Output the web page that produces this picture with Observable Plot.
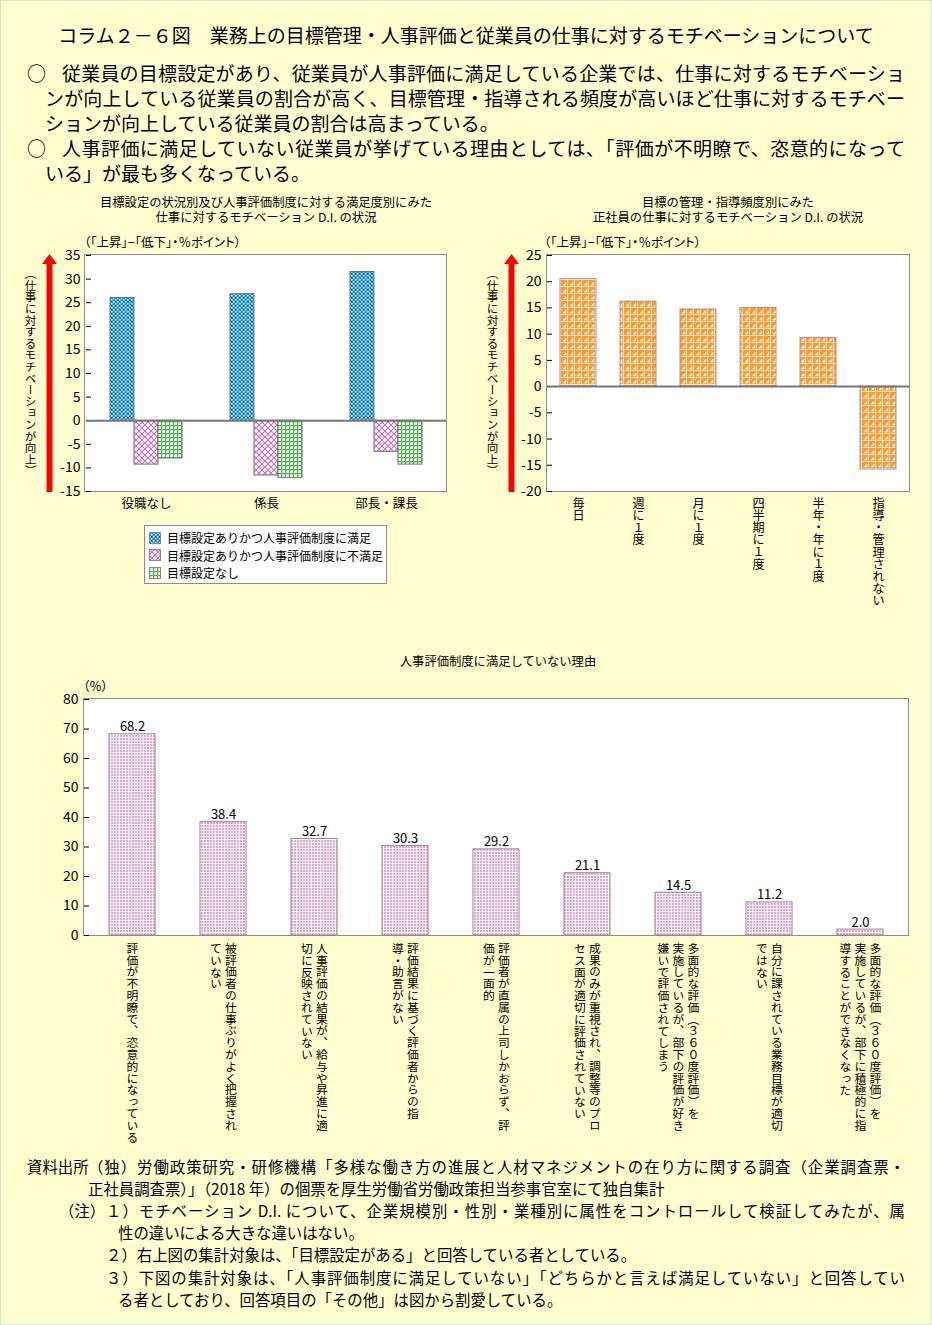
<!DOCTYPE html>
<html><head><meta charset="utf-8">
<script src="https://cdn.jsdelivr.net/npm/d3@7"></script>
<script src="https://cdn.jsdelivr.net/npm/@observablehq/plot@0.6"></script>
<style>
body{margin:0;background:#ffffd0;}
#page{position:relative;width:932px;height:1325px;background:#ffffd0;font-family:"Noto Sans CJK JP",sans-serif;color:#000;overflow:hidden;}
#edge{position:absolute;left:0;top:0;right:0;bottom:0;border:1px solid #c6edc6;pointer-events:none;}
.abs{position:absolute;white-space:nowrap;}
.line{position:absolute;font-size:19px;line-height:25px;height:25px;}
.just{text-align:justify;text-align-last:justify;white-space:normal;overflow:hidden;}
.foot{position:absolute;font-size:15.4px;line-height:22px;height:22px;}
.ctitle{position:absolute;font-size:12.3px;line-height:13px;height:13px;text-align:center;white-space:nowrap;}
.unit{position:absolute;font-size:12.5px;line-height:14px;white-space:nowrap;font-feature-settings:"palt";}
.vtitle{position:absolute;writing-mode:vertical-rl;font-size:11.6px;line-height:12px;white-space:nowrap;}
.plotbox{position:absolute;background:#fff;border:1.5px solid #8c8c8c;box-sizing:border-box;}
.chart{position:absolute;}
#legend{position:absolute;left:144px;top:525px;width:243px;height:59px;background:#fff;border:1px solid #8c8c8c;box-sizing:border-box;padding-top:3px;}
#legend .row{display:flex;align-items:center;height:17.5px;font-size:12px;padding-left:4px;white-space:nowrap;}
#legend svg{margin-right:6px;}
</style>
</head><body>
<svg width="0" height="0" style="position:absolute">
<defs>
<pattern id="patBlue" width="4" height="4" patternUnits="userSpaceOnUse">
<rect width="4" height="4" fill="#1b8fd3"/>
<rect x="0" y="0" width="1.6" height="1.6" fill="#d9f1ff"/>
<rect x="2" y="2" width="1.6" height="1.6" fill="#d9f1ff"/>
<rect x="2" y="0" width="1" height="1" fill="#0d3f78"/>
</pattern>
<pattern id="patCross" width="6" height="6" patternUnits="userSpaceOnUse">
<rect width="6" height="6" fill="#ffffff"/>
<path d="M0,0L6,6M6,0L0,6" stroke="#c46bc4" stroke-width="1.1"/>
</pattern>
<pattern id="patGrid" width="4" height="4" patternUnits="userSpaceOnUse">
<rect width="4" height="4" fill="#ffffff"/>
<path d="M0,0.6H4M0.6,0V4" stroke="#48b848" stroke-width="1.2"/>
</pattern>
<pattern id="patOrange" width="7" height="7" patternUnits="userSpaceOnUse">
<rect width="7" height="7" fill="#ff9a2c"/>
<path d="M0,6.6H7M6.6,0V7" stroke="#ffffff" stroke-width="0.8"/>
<path d="M1.8,5.2L5.2,5.2L5.2,1.8Z" fill="#ffffff"/>
</pattern>
<pattern id="patDots" width="3" height="3" patternUnits="userSpaceOnUse">
<rect width="3" height="3" fill="#ffffff"/>
<rect x="0" y="0" width="2" height="2" fill="#f79ad2"/>
</pattern>
</defs>
</svg>
<div id="page">
  <div class="abs" style="left:0;width:932px;top:23px;font-size:19px;line-height:24px;text-align:center;">コラム２－６図　業務上の目標管理・人事評価と従業員の仕事に対するモチベーションについて</div>

  <div class="line" style="left:27px;top:59.5px;">○</div>
  <div class="line just" style="left:62px;width:843px;top:59.5px;">従業員の目標設定があり、従業員が人事評価に満足している企業では、仕事に対するモチベーショ</div>
  <div class="line just" style="left:45px;width:860px;top:84.5px;">ンが向上している従業員の割合が高く、目標管理・指導される頻度が高いほど仕事に対するモチベー</div>
  <div class="line" style="left:45px;top:109.5px;white-space:nowrap;">ションが向上している従業員の割合は高まっている。</div>
  <div class="line" style="left:27px;top:134.5px;">○</div>
  <div class="line just" style="left:62px;width:843px;top:134.5px;">人事評価に満足していない従業員が挙げている理由としては、「評価が不明瞭で、恣意的になって</div>
  <div class="line" style="left:45px;top:159.5px;white-space:nowrap;">いる」が最も多くなっている。</div>

  <div class="ctitle" style="left:66px;width:400px;top:195.5px;">目標設定の状況別及び人事評価制度に対する満足度別にみた</div>
  <div class="ctitle" style="left:66px;width:400px;top:210.5px;">仕事に対するモチベーション D.I. の状況</div>
  <div class="ctitle" style="left:528px;width:400px;top:195.5px;">目標の管理・指導頻度別にみた</div>
  <div class="ctitle" style="left:528px;width:400px;top:210.5px;">正社員の仕事に対するモチベーション D.I. の状況</div>
  <div class="unit" style="left:84px;top:235px;">（「上昇」−「低下」・％ポイント）</div>
  <div class="unit" style="left:544px;top:235px;">（「上昇」−「低下」・％ポイント）</div>
  <div class="vtitle" style="left:24.5px;top:268px;">（仕事に対するモチベーションが向上）</div>
  <div class="vtitle" style="left:486.5px;top:268px;">（仕事に対するモチベーションが向上）</div>
  <svg class="abs" style="left:40px;top:250px;" width="20" height="245"><rect x="6.5" y="12" width="6" height="230" fill="#ff0000"/><path d="M2,14L9.5,4L17,14Z" fill="#ff0000"/></svg>
  <svg class="abs" style="left:502px;top:250px;" width="20" height="245"><rect x="6.5" y="12" width="6" height="230" fill="#ff0000"/><path d="M2,14L9.5,4L17,14Z" fill="#ff0000"/></svg>

  <div class="plotbox" id="boxL"></div>
  <div class="plotbox" id="boxR"></div>
  <div class="plotbox" id="boxB"></div>
  <div class="chart" id="chartL"></div>
  <div class="chart" id="chartR"></div>
  <div class="chart" id="chartB"></div>
  <div id="legend"></div>

  <div class="ctitle" style="left:298px;width:400px;top:655px;">人事評価制度に満足していない理由</div>
  <div class="unit" style="left:83px;top:679px;">（％）</div>

  <div class="foot" style="left:27px;top:1155px;">資料出所</div>
  <div class="foot just" style="left:88px;width:817px;top:1155px;">（独）労働政策研究・研修機構「多様な働き方の進展と人材マネジメントの在り方に関する調査（企業調査票・</div>
  <div class="foot" style="left:88px;top:1177px;white-space:nowrap;">正社員調査票）」（2018 年）の個票を厚生労働省労働政策担当参事官室にて独自集計</div>
  <div class="foot" style="left:59px;top:1199px;">（注）</div>
  <div class="foot just" style="left:106px;width:799px;top:1199px;">１）モチベーション D.I. について、企業規模別・性別・業種別に属性をコントロールして検証してみたが、属</div>
  <div class="foot" style="left:118px;top:1221px;white-space:nowrap;">性の違いによる大きな違いはない。</div>
  <div class="foot" style="left:106px;top:1243px;white-space:nowrap;">２）右上図の集計対象は、「目標設定がある」と回答している者としている。</div>
  <div class="foot just" style="left:106px;width:799px;top:1266px;">３）下図の集計対象は、「人事評価制度に満足していない」「どちらかと言えば満足していない」と回答してい</div>
  <div class="foot" style="left:118px;top:1288px;white-space:nowrap;">る者としており、回答項目の「その他」は図から割愛している。</div>
  <div id="edge"></div>
</div>
<script>
// ---------- data ----------
const motivCats = ["役職なし", "係長", "部長・課長"];
const motivSeries = ["目標設定ありかつ人事評価制度に満足", "目標設定ありかつ人事評価制度に不満足", "目標設定なし"];
const motivSatisfied = [26.0, 26.8, 31.5];
const motivUnsatisfied = [-9.3, -11.6, -6.6];
const motivNoGoal = [-8.0, -12.1, -9.3];
const motivTicks = [-15, -10, -5, 0, 5, 10, 15, 20, 25, 30, 35];

const freqCats = ["毎日", "週に１度", "月に１度", "四半期に１度", "半年・年に１度", "指導・管理されない"];
const freqValues = [20.5, 16.2, 14.7, 15.0, 9.3, -15.8];
const freqTicks = [-20, -15, -10, -5, 0, 5, 10, 15, 20, 25];

const reasonLabels = [
  "評価が不明瞭で、恣意的になっている",
  "被評価者の仕事ぶりがよく把握され\nていない",
  "人事評価の結果が、給与や昇進に適\n切に反映されていない",
  "評価結果に基づく評価者からの指\n導・助言がない",
  "評価者が直属の上司しかおらず、評\n価が一面的",
  "成果のみが重視され、調整等のプロ\nセス面が適切に評価されていない",
  "多面的な評価（３６０度評価）を\n実施しているが、部下の評価が好き\n嫌いで評価されてしまう",
  "自分に課されている業務目標が適切\nではない",
  "多面的な評価（３６０度評価）を\n実施しているが、部下に積極的に指\n導することができなくなった"
];
const reasonValues = [68.2, 38.4, 32.7, 30.3, 29.2, 21.1, 14.5, 11.2, 2.0];
const reasonTicks = [0, 10, 20, 30, 40, 50, 60, 70, 80];

// ---------- styling ----------
const FONT = "'Noto Sans CJK JP', sans-serif";
const motivPatterns = ["url(#patBlue)", "url(#patCross)", "url(#patGrid)"];
const baseStyle = {background: "transparent", fontFamily: FONT, fontSize: "14px", color: "#000", overflow: "visible"};

function place(id, boxId, left, top, w, h, m) {
  const c = document.getElementById(id);
  c.style.left = left + "px"; c.style.top = top + "px";
  const b = document.getElementById(boxId);
  b.style.left = (left + m.l - 0.75) + "px";
  b.style.top = (top + m.t - 0.75) + "px";
  b.style.width = (w - m.l - m.r + 1.5) + "px";
  b.style.height = (h - m.t - m.b + 1.5) + "px";
}

function verticalize(svg, fs, gap) {
  const sel = svg.querySelectorAll(`[font-size="${fs}"] text, text[font-size="${fs}"]`);
  sel.forEach(el => {
    const spans = el.querySelectorAll("tspan");
    const lines = spans.length ? Array.from(spans, t => t.textContent) : el.textContent.split("\n");
    const n = lines.length;
    el.removeAttribute("y");
    el.textContent = "";
    el.style.writingMode = "vertical-rl";
    el.setAttribute("text-anchor", "start");
    lines.forEach((line, i) => {
      const t = document.createElementNS("http://www.w3.org/2000/svg", "tspan");
      t.setAttribute("x", ((n - 1) / 2 - i) * gap);
      t.setAttribute("y", 0);
      t.textContent = line;
      el.appendChild(t);
    });
  });
}

// ---------- left chart ----------
const mL = {l: 85, r: 24, t: 10, b: 29};
const wL = 470, hL = 275;
place("chartL", "boxL", 0, 245, wL, hL, mL);
const motivRows = motivCats.flatMap((cat, i) => [
  {cat, series: motivSeries[0], value: motivSatisfied[i]},
  {cat, series: motivSeries[1], value: motivUnsatisfied[i]},
  {cat, series: motivSeries[2], value: motivNoGoal[i]}
]);
const left = Plot.plot({
  width: wL, height: hL, marginLeft: mL.l, marginRight: mL.r, marginTop: mL.t, marginBottom: mL.b,
  style: baseStyle,
  facet: {data: motivRows, x: "cat"},
  fx: {domain: motivCats, padding: 0, axis: "bottom", label: null, tickSize: 0, tickPadding: 8},
  x: {domain: motivSeries, axis: null, paddingInner: 0, paddingOuter: 1},
  y: {domain: [-15, 35], ticks: motivTicks, tickFormat: d => String(d), tickSize: -5, tickPadding: 11, label: null},
  color: {domain: motivSeries, range: motivPatterns},
  marks: [
    Plot.barY(motivRows, {x: "series", y: "value", fill: "series", stroke: "#6f6f6f", strokeWidth: 1}),
    Plot.ruleY([0], {stroke: "#777", strokeWidth: 2})
  ]
});
left.querySelectorAll('[aria-label^="fx-axis"] text').forEach(t => t.setAttribute("font-size", "12.5"));
document.getElementById("chartL").appendChild(left);

// legend
const lg = document.getElementById("legend");
motivSeries.forEach((s, i) => {
  const row = document.createElement("div");
  row.className = "row";
  row.innerHTML = `<svg width="12" height="12"><rect x="0.5" y="0.5" width="11" height="11" fill="${motivPatterns[i]}" stroke="#888" stroke-width="1"/></svg><span>${s}</span>`;
  lg.appendChild(row);
});

// ---------- right chart ----------
const mR = {l: 77, r: 23, t: 10, b: 129};
const wR = 462, hR = 375;
place("chartR", "boxR", 470, 245, wR, hR, mR);
const freqRows = freqCats.map((cat, i) => ({cat, value: freqValues[i]}));
const right = Plot.plot({
  width: wR, height: hR, marginLeft: mR.l, marginRight: mR.r, marginTop: mR.t, marginBottom: mR.b,
  style: baseStyle,
  x: {domain: freqCats, paddingInner: 0.4, paddingOuter: 0.2, axis: null},
  y: {domain: [-20, 25], ticks: freqTicks, tickFormat: d => String(d), tickSize: -5, tickPadding: 11, label: null},
  marks: [
    Plot.barY(freqRows, {x: "cat", y: "value", fill: "url(#patOrange)", stroke: "#9b96b4", strokeWidth: 1}),
    Plot.ruleY([0], {stroke: "#777", strokeWidth: 2}),
    Plot.text(freqRows, {x: "cat", text: "cat", frameAnchor: "bottom", dy: 6, fontSize: 12.1, textAnchor: "start"})
  ]
});
verticalize(right, "12.1", 14);
document.getElementById("chartR").appendChild(right);

// ---------- bottom chart ----------
const mB = {l: 84, r: 24, t: 9, b: 215};
const wB = 932, hB = 460;
place("chartB", "boxB", 0, 690, wB, hB, mB);
const reasonRows = reasonLabels.map((label, i) => ({label, value: reasonValues[i]}));
const bottom = Plot.plot({
  width: wB, height: hB, marginLeft: mB.l, marginRight: mB.r, marginTop: mB.t, marginBottom: mB.b,
  style: baseStyle,
  x: {domain: reasonLabels, paddingInner: 0.5, paddingOuter: 0.25, axis: null},
  y: {domain: [0, 80], ticks: reasonTicks, tickFormat: d => String(d), tickSize: -5, tickPadding: 11, label: null},
  marks: [
    Plot.barY(reasonRows, {x: "label", y: "value", fill: "url(#patDots)", stroke: "#8a8a8a", strokeWidth: 1}),
    Plot.text(reasonRows, {x: "label", y: "value", text: d => d3.format(".1f")(d.value), lineAnchor: "bottom", dy: -3, fontSize: 13}),
    Plot.text(reasonRows, {x: "label", text: "label", frameAnchor: "bottom", dy: 7, fontSize: 11.8, textAnchor: "start"})
  ]
});
verticalize(bottom, "11.8", 15);
document.getElementById("chartB").appendChild(bottom);
</script>
</body></html>
